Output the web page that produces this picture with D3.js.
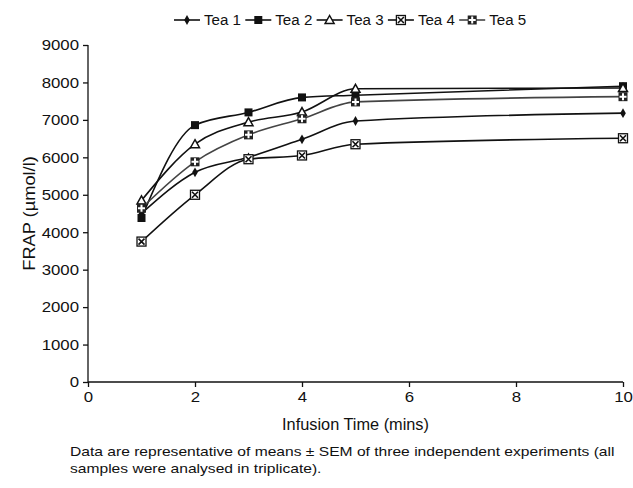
<!DOCTYPE html>
<html>
<head>
<meta charset="utf-8">
<script src="https://cdn.jsdelivr.net/npm/d3@7"></script>
<style>
  body { margin: 0; background: #fff; }
  svg text { font-family: "Liberation Sans", Arial, sans-serif; fill: #111; }
  .axis path, .axis line { stroke: #111; stroke-width: 1.3; }
  .line { fill: none; stroke-width: 1.6; }
</style>
</head>
<body>
<div id="chart"></div>
<script>
// infusion time (mins)
var times = [1, 2, 3, 4, 5, 10];

// FRAP values (umol/l)
var tea1 = [4500, 5600, 6000, 6480, 6970, 7180];
var tea2 = [4380, 6860, 7200, 7600, 7660, 7900];
var tea3 = [4850, 6350, 6940, 7210, 7830, 7850];
var tea4 = [3750, 5000, 5950, 6050, 6350, 6510];
var tea5 = [4640, 5880, 6600, 7030, 7480, 7620];

var seriesNames = ["Tea 1", "Tea 2", "Tea 3", "Tea 4", "Tea 5"];
var xTicks = [0, 2, 4, 6, 8, 10];
var yTicks = [0, 1000, 2000, 3000, 4000, 5000, 6000, 7000, 8000, 9000];

var footnote = [
  "Data are representative of means \u00b1 SEM of three independent experiments (all",
  "samples were analysed in triplicate)."
];

var series = [tea1, tea2, tea3, tea4, tea5].map(function(vals, i) {
  return {
    id: seriesNames[i],
    marker: ["diamond", "square", "triangle", "boxX", "boxPlus"][i],
    color: i == 4 ? "#444" : "#111",
    values: vals.map(function(v, j) { return {time: times[j], frap: v}; })
  };
});

var margin = {top: 45, right: 10, bottom: 106, left: 88},
    width = 633 - margin.left - margin.right,
    height = 488 - margin.top - margin.bottom;

var svg = d3.select("#chart").append("svg")
    .attr("width", 633)
    .attr("height", 488);

var g = svg.append("g")
    .attr("transform", "translate(" + margin.left + "," + margin.top + ")");

var x = d3.scaleLinear().domain([0, 10]).range([0, width]),
    y = d3.scaleLinear().domain([0, 9000]).range([height, 0]);

var line = d3.line()
    .curve(d3.curveMonotoneX)
    .x(function(d) { return x(d.time); })
    .y(function(d) { return y(d.frap); });

// the original uses a wide face, so widen the glyphs a bit
function stretch(sel, k) {
  sel.each(function() {
    var w = this.getComputedTextLength();
    d3.select(this).attr("textLength", w * k).attr("lengthAdjust", "spacingAndGlyphs");
  });
}

// axes
g.append("g")
    .attr("class", "axis axis--x")
    .attr("transform", "translate(0," + height + ")")
    .call(d3.axisBottom(x).tickValues(xTicks).tickSize(5).tickPadding(4).tickFormat(d3.format("d")))
    .call(function(a) { a.select(".domain").attr("d", "M0,0H" + width); })
    .selectAll("text").style("font-size", "15px").call(stretch, 1.12);

g.append("g")
    .attr("class", "axis axis--y")
    .call(d3.axisLeft(y).tickValues(yTicks).tickSize(5).tickPadding(4).tickFormat(d3.format("d")))
    .call(function(a) { a.select(".domain").attr("d", "M0,0V" + height); })
    .selectAll("text").style("font-size", "15px").call(stretch, 1.12);

// draws one marker symbol at 0,0
function drawMarker(sel, type, color) {
  if (type == "diamond") {
    sel.append("path").attr("d", d3.symbol(d3.symbolDiamond, 28)()).attr("fill", color);
  } else if (type == "square") {
    sel.append("rect").attr("x", -4).attr("y", -4).attr("width", 8).attr("height", 8).attr("fill", color);
  } else if (type == "triangle") {
    sel.append("path").attr("d", "M0,-4.5L4.5,3.5L-4.5,3.5Z")
      .attr("fill", "#fff").attr("stroke", color).attr("stroke-width", 1.5);
  } else if (type == "boxX") {
    sel.append("rect").attr("x", -4.5).attr("y", -4.5).attr("width", 9).attr("height", 9)
      .attr("fill", "#fff").attr("stroke", color).attr("stroke-width", 1.3);
    sel.append("path").attr("d", "M-3,-3L3,3M3,-3L-3,3").attr("stroke", color).attr("stroke-width", 1.6);
  } else if (type == "boxPlus") {
    sel.append("rect").attr("x", -4.5).attr("y", -4.5).attr("width", 9).attr("height", 9).attr("fill", "#222");
    sel.append("path").attr("d", "M0,-3.5V3.5M-3.5,0H3.5").attr("stroke", "#fff").attr("stroke-width", 2);
  }
}

var category = g.selectAll(".category")
  .data(series)
  .enter().append("g")
    .attr("class", "category");

category.append("path")
    .attr("class", "line")
    .attr("d", function(d) { return line(d.values); })
    .style("stroke", function(d) { return d.color; });

category.each(function(s) {
  d3.select(this).selectAll(".pt")
    .data(s.values)
    .enter().append("g")
      .attr("class", "pt")
      .attr("transform", function(d) { return "translate(" + x(d.time) + "," + y(d.frap) + ")"; })
      .each(function() { drawMarker(d3.select(this), s.marker, s.color); });
});

// legend
var legend = svg.append("g").attr("transform", "translate(174,20)");
var item = legend.selectAll(".item")
  .data(series)
  .enter().append("g")
    .attr("class", "item")
    .attr("transform", function(d, i) { return "translate(" + (i * 71.3) + ",0)"; });

item.append("line")
    .attr("x1", 0).attr("x2", 26)
    .attr("stroke", function(d) { return d.color; })
    .attr("stroke-width", 1.6);
item.append("g")
    .attr("transform", "translate(13,0)")
    .each(function(d) { drawMarker(d3.select(this), d.marker, d.color); });
item.append("text")
    .attr("x", 30)
    .attr("dy", "0.35em")
    .style("font-size", "14px")
    .text(function(d) { return d.id; })
    .call(stretch, 1.08);

// axis titles
svg.append("text")
    .attr("transform", "translate(" + (margin.left + width / 2) + ",430)")
    .attr("text-anchor", "middle")
    .style("font-size", "16px")
    .text("Infusion Time (mins)")
    .call(stretch, 1.02);

svg.append("text")
    .attr("transform", "translate(35," + (margin.top + height / 2) + ") rotate(-90)")
    .attr("text-anchor", "middle")
    .style("font-size", "16px")
    .text("FRAP (\u00b5mol/l)")
    .call(stretch, 1.14);

// footnote
svg.append("g").selectAll("text")
  .data(footnote)
  .enter().append("text")
    .attr("x", 70)
    .attr("y", function(d, i) { return 456 + i * 17; })
    .style("font-size", "13px")
    .text(function(d) { return d; })
    .call(stretch, 1.2);
</script>
</body>
</html>
